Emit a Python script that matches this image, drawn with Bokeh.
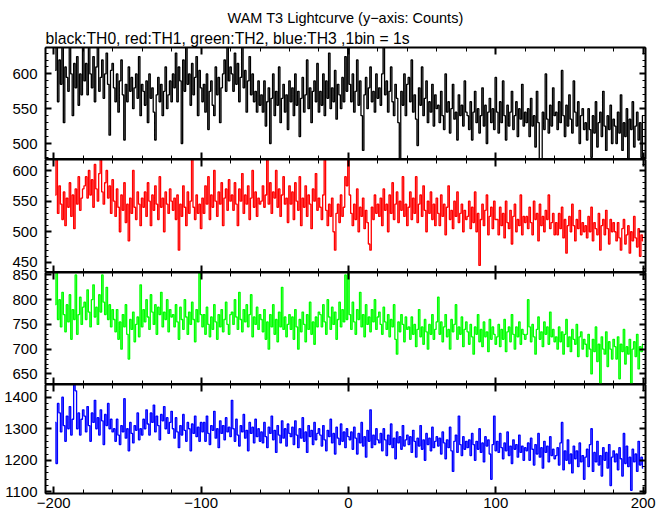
from bokeh.plotting import figure
from bokeh.models import Range1d, LinearAxis, SingleIntervalTicker, Title
from bokeh.layouts import column
from bokeh.embed import file_html
from bokeh.resources import INLINE

FONT = "Liberation Sans"

main_title = "WAM T3 Lightcurve (y\u2212axis: Counts)"
sub_title = "black:TH0, red:TH1, green:TH2, blue:TH3 ,1bin = 1s"

t_start = -199  # first 1-s bin

th0 = [
    605, 640, 560, 620, 585, 650, 530, 610, 595, 575, 645, 600, 540, 615, 580, 625, 555, 600, 570, 640,
    590, 615, 570, 645, 600, 580, 625, 560, 610, 640, 575, 595, 620, 565, 600, 630, 585, 512, 605, 615,
    580, 560, 600, 545, 590, 620, 570, 505, 585, 560, 610, 575, 595, 550, 580, 600, 565, 625, 540, 585,
    575, 555, 590, 530, 600, 565, 580, 545, 505, 570, 595, 560, 585, 540, 575, 610, 550, 570, 590, 560,
    600, 580, 630, 560, 610, 590, 500, 620, 575, 645, 585, 600, 555, 615, 570, 595, 625, 540, 605, 580,
    560, 585, 545, 600, 520, 575, 590, 555, 540, 610, 570, 595, 530, 580, 600, 620, 575, 640, 590, 610,
    600, 575, 630, 585, 615, 560, 595, 640, 580, 605, 545, 590, 625, 570, 600, 560, 575, 545, 590, 555,
    570, 545, 590, 525, 560, 580, 500, 565, 600, 540, 575, 555, 610, 530, 565, 585, 545, 570, 520, 590,
    560, 580, 540, 600, 555, 575, 510, 565, 595, 545, 570, 620, 550, 580, 530, 575, 590, 560, 615, 545,
    575, 555, 600, 540, 590, 565, 630, 550, 580, 560, 605, 535, 585, 570, 550, 595, 560, 625, 575, 650,
    585, 560, 600, 545, 575, 620, 555, 590, 540, 490, 570, 595, 550, 580, 610, 560, 575, 545, 600, 565,
    580, 555, 600, 640, 570, 590, 545, 575, 610, 560, 540, 585, 565, 530, 470, 575, 555, 600, 540, 585,
    595, 560, 620, 545, 570, 535, 497, 580, 555, 610, 540, 565, 590, 530, 560, 545, 585, 525, 570, 550,
    555, 530, 575, 540, 520, 600, 545, 560, 515, 550, 585, 535, 545, 505, 570, 540, 555, 525, 590, 545,
    540, 520, 560, 505, 545, 575, 530, 550, 515, 540, 580, 525, 555, 500, 545, 565, 530, 550, 520, 595,
    545, 515, 560, 530, 590, 540, 505, 555, 525, 545, 575, 520, 540, 560, 510, 550, 535, 585, 525, 545,
    530, 550, 510, 565, 525, 540, 495, 575, 530, 470, 475, 545, 520, 600, 535, 515, 555, 525, 580, 540,
    545, 520, 560, 530, 605, 540, 510, 555, 525, 570, 535, 515, 590, 545, 525, 560, 500, 540, 550, 520,
    530, 505, 550, 520, 480, 540, 515, 560, 495, 530, 545, 510, 575, 525, 490, 540, 520, 555, 500, 535,
    525, 500, 545, 515, 570, 490, 530, 510, 550, 478, 535, 520, 560, 495, 525, 545, 505, 530, 480, 540,
]

th1 = [
    560, 620, 530, 575, 545, 520, 565, 510, 555, 540, 580, 525, 560, 505, 570, 545, 590, 535, 555, 570,
    575, 590, 555, 600, 560, 585, 540, 610, 570, 550, 595, 620, 565, 545, 580, 600, 555, 575, 530, 585,
    550, 525, 570, 540, 500, 560, 535, 580, 515, 545, 485, 555, 530, 600, 540, 520, 565, 545, 510, 555,
    540, 565, 525, 580, 550, 510, 560, 535, 575, 545, 520, 590, 540, 555, 500, 565, 545, 530, 570, 550,
    535, 555, 520, 560, 470, 545, 525, 575, 540, 510, 565, 530, 550, 620, 540, 520, 560, 530, 545, 505,
    555, 530, 575, 545, 590, 520, 560, 540, 600, 550, 525, 565, 545, 580, 510, 555, 570, 535, 585, 550,
    560, 535, 580, 545, 510, 570, 550, 595, 530, 560, 545, 575, 520, 555, 600, 540, 565, 525, 555, 545,
    550, 575, 540, 560, 620, 545, 580, 530, 565, 555, 600, 540, 570, 525, 560, 590, 545, 555, 515, 575,
    545, 565, 520, 580, 550, 535, 590, 510, 555, 540, 575, 525, 560, 545, 505, 570, 550, 595, 535, 555,
    540, 520, 560, 620, 535, 510, 545, 525, 555, 500, 470, 530, 545, 515, 560, 525, 540, 590, 575, 620,
    560, 530, 510, 545, 520, 570, 500, 540, 525, 555, 505, 535, 515, 480, 470, 540, 520, 560, 530, 545,
    525, 555, 510, 570, 535, 545, 500, 560, 530, 580, 520, 545, 565, 515, 550, 535, 590, 525, 545, 510,
    540, 565, 520, 555, 530, 590, 515, 545, 560, 525, 575, 535, 500, 550, 530, 565, 520, 545, 510, 555,
    530, 510, 560, 525, 545, 495, 540, 575, 520, 535, 505, 550, 525, 565, 515, 530, 545, 500, 535, 520,
    525, 550, 505, 540, 515, 565, 500, 530, 445, 520, 545, 510, 535, 560, 495, 525, 540, 505, 550, 520,
    520, 495, 540, 510, 530, 490, 550, 515, 505, 535, 480, 525, 545, 500, 520, 510, 560, 495, 525, 515,
    525, 505, 540, 515, 495, 550, 520, 530, 485, 545, 510, 525, 500, 535, 520, 560, 505, 515, 530, 495,
    515, 495, 530, 505, 540, 490, 520, 465, 510, 525, 500, 545, 510, 485, 520, 505, 535, 495, 515, 500,
    510, 490, 525, 500, 540, 485, 515, 505, 495, 530, 470, 510, 520, 495, 535, 505, 480, 520, 500, 515,
    500, 485, 515, 490, 470, 505, 520, 480, 495, 510, 465, 500, 485, 525, 490, 475, 505, 460, 495, 485,
]

th2 = [
    790, 860, 760, 800, 745, 815, 770, 735, 790, 755, 810, 720, 780, 760, 850, 730, 770, 805, 750, 785,
    795, 760, 820, 775, 745, 800, 830, 765, 785, 750, 810, 775, 850, 795, 770, 825, 760, 790, 745, 780,
    760, 735, 780, 720, 755, 700, 770, 745, 790, 730, 680, 760, 740, 775, 715, 750, 765, 725, 830, 745,
    780, 755, 800, 765, 740, 810, 775, 750, 790, 730, 785, 770, 815, 745, 775, 760, 800, 735, 780, 765,
    770, 745, 790, 755, 720, 785, 760, 740, 800, 765, 730, 775, 750, 795, 760, 715, 780, 755, 855, 770,
    745, 770, 730, 785, 750, 725, 765, 740, 790, 755, 720, 770, 745, 780, 735, 760, 795, 750, 730, 770,
    775, 750, 800, 765, 740, 815, 760, 735, 780, 755, 790, 745, 770, 810, 725, 765, 750, 785, 740, 770,
    760, 735, 780, 720, 755, 700, 770, 745, 790, 730, 760, 715, 775, 745, 825, 740, 765, 725, 750, 770,
    740, 765, 720, 780, 745, 700, 760, 735, 775, 750, 715, 770, 740, 795, 730, 755, 710, 765, 745, 775,
    770, 745, 790, 755, 730, 800, 765, 740, 785, 750, 775, 720, 760, 795, 745, 780, 755, 850, 760, 860,
    770, 740, 795, 755, 730, 780, 760, 815, 745, 770, 725, 790, 750, 765, 735, 780, 755, 800, 740, 765,
    775, 750, 730, 785, 755, 740, 770, 725, 760, 745, 790, 720, 690, 755, 735, 770, 750, 715, 765, 740,
    745, 720, 765, 730, 750, 705, 740, 780, 725, 745, 710, 760, 735, 700, 750, 730, 770, 720, 740, 755,
    805, 730, 755, 715, 745, 770, 725, 740, 700, 760, 735, 750, 790, 720, 745, 730, 765, 705, 740, 755,
    735, 710, 750, 725, 690, 745, 730, 770, 715, 740, 705, 755, 725, 735, 695, 760, 720, 745, 730, 710,
    725, 750, 705, 740, 720, 760, 695, 735, 745, 715, 770, 730, 700, 745, 725, 755, 710, 740, 730, 720,
    730, 800, 745, 715, 750, 725, 690, 740, 765, 720, 735, 705, 755, 730, 745, 710, 775, 725, 740, 715,
    725, 700, 745, 715, 735, 690, 730, 760, 705, 725, 695, 740, 720, 710, 750, 685, 725, 735, 700, 720,
    710, 685, 730, 700, 650, 720, 695, 745, 675, 710, 630, 725, 700, 690, 735, 665, 715, 700, 680, 720,
    705, 680, 725, 640, 710, 695, 740, 670, 705, 690, 720, 630, 700, 715, 685, 730, 660, 705, 695, 710,
]

th3 = [
    1320, 1190, 1380, 1350, 1290, 1400, 1310, 1260, 1340, 1300, 1370, 1280, 1330, 1445, 1420, 1300, 1350, 1280, 1330, 1360,
    1340, 1290, 1370, 1310, 1260, 1350, 1320, 1390, 1300, 1335, 1280, 1360, 1325, 1250, 1345, 1310, 1380, 1300, 1330, 1290,
    1300, 1260, 1330, 1280, 1250, 1310, 1290, 1395, 1270, 1300, 1230, 1320, 1285, 1255, 1310, 1295, 1350, 1265, 1300, 1280,
    1330, 1300, 1360, 1315, 1280, 1350, 1320, 1375, 1290, 1340, 1310, 1265, 1345, 1325, 1370, 1300, 1335, 1285, 1320, 1355,
    1300, 1270, 1335, 1290, 1240, 1310, 1280, 1345, 1295, 1260, 1320, 1300, 1230, 1315, 1285, 1340, 1275, 1305, 1260, 1320,
    1290, 1320, 1260, 1340, 1285, 1250, 1310, 1295, 1355, 1270, 1300, 1240, 1325, 1285, 1310, 1265, 1335, 1290, 1305, 1275,
    1390, 1300, 1260, 1330, 1280, 1245, 1310, 1290, 1345, 1270, 1295, 1230, 1320, 1285, 1305, 1255, 1330, 1275, 1300, 1260,
    1290, 1255, 1320, 1275, 1240, 1305, 1285, 1340, 1265, 1295, 1225, 1310, 1280, 1255, 1325, 1270, 1300, 1245, 1315, 1285,
    1275, 1305, 1250, 1325, 1280, 1240, 1300, 1270, 1335, 1260, 1290, 1225, 1310, 1275, 1295, 1250, 1320, 1265, 1285, 1300,
    1280, 1245, 1310, 1265, 1230, 1295, 1275, 1330, 1255, 1285, 1220, 1305, 1270, 1250, 1315, 1260, 1290, 1240, 1300, 1275,
    1265, 1290, 1235, 1305, 1270, 1220, 1285, 1255, 1320, 1245, 1275, 1210, 1295, 1260, 1360, 1240, 1280, 1250, 1300, 1265,
    1255, 1285, 1230, 1300, 1265, 1215, 1280, 1250, 1315, 1240, 1270, 1205, 1290, 1255, 1275, 1235, 1310, 1245, 1265, 1280,
    1250, 1275, 1225, 1295, 1260, 1210, 1270, 1245, 1310, 1235, 1265, 1200, 1285, 1250, 1270, 1230, 1305, 1240, 1260, 1275,
    1245, 1270, 1220, 1290, 1255, 1205, 1265, 1240, 1305, 1230, 1165, 1260, 1280, 1225, 1340, 1250, 1215, 1275, 1235, 1260,
    1240, 1265, 1215, 1285, 1250, 1200, 1260, 1235, 1300, 1225, 1255, 1195, 1275, 1245, 1265, 1220, 1140, 1250, 1340, 1230,
    1260, 1225, 1285, 1240, 1205, 1255, 1230, 1290, 1215, 1245, 1190, 1265, 1235, 1250, 1210, 1280, 1225, 1245, 1200, 1240,
    1230, 1255, 1200, 1270, 1235, 1185, 1250, 1220, 1285, 1210, 1240, 1175, 1260, 1225, 1245, 1195, 1275, 1215, 1235, 1205,
    1215, 1240, 1185, 1255, 1320, 1170, 1230, 1200, 1265, 1190, 1220, 1160, 1245, 1205, 1230, 1180, 1255, 1195, 1215, 1140,
    1210, 1235, 1180, 1250, 1300, 1165, 1225, 1195, 1260, 1185, 1215, 1150, 1240, 1200, 1225, 1175, 1250, 1120, 1210, 1230,
    1195, 1220, 1170, 1240, 1205, 1150, 1285, 1190, 1245, 1180, 1210, 1105, 1235, 1195, 1220, 1165, 1260, 1185, 1210, 1175,
]

series = [th0, th1, th2, th3]
colors = ["#000000", "#ff0000", "#00ff00", "#0000ff"]
y_ranges = [(477, 638), (433.5, 618), (628.6, 855), (1095, 1440)]
y_major = [50, 50, 50, 100]
x_major = 100
x_lim = (-205.6, 201.6)

frame_h = [112, 113, 112, 109]
top_border = 47      # room for the two title lines
bottom_border = 21   # room for the x tick labels
overlap = 10         # transparent strip that lets edge labels cross a panel boundary


def style_axis(ax, labels, vertical):
    ax.axis_line_color = "black"
    ax.axis_line_width = 2
    ax.major_tick_line_color = "black"
    ax.minor_tick_line_color = "black"
    ax.major_tick_line_width = 2
    ax.minor_tick_line_width = 1
    ax.major_tick_in = 6 if vertical else 7
    ax.major_tick_out = 0
    ax.minor_tick_in = 3 if vertical else 4
    ax.minor_tick_out = 0
    ax.axis_label = None
    if labels:
        ax.major_label_text_font = FONT
        ax.major_label_text_font_size = "15px"
        ax.major_label_text_color = "black"
        ax.major_label_standoff = 8 if vertical else 4
    else:
        ax.major_label_text_font_size = "0px"
        ax.major_label_text_color = None
        ax.major_label_standoff = 0


x_range = Range1d(*x_lim)
figs = []
for i, (vals, col) in enumerate(zip(series, colors)):
    first = i == 0
    last = i == len(series) - 1
    top = top_border if first else overlap
    bottom = bottom_border if last else 0
    p = figure(width=665, height=frame_h[i] + top + bottom, x_range=x_range,
               y_range=Range1d(*y_ranges[i]),
               output_backend="svg", toolbar_location=None,
               x_axis_location=None, y_axis_location=None,
               min_border_left=45, min_border_right=20,
               min_border_top=top, min_border_bottom=bottom)
    if not first:
        p.margin = (-overlap, 0, 0, 0)
    p.xgrid.grid_line_color = None
    p.ygrid.grid_line_color = None
    p.outline_line_color = "black"
    p.outline_line_width = 1
    p.background_fill_color = None
    p.border_fill_color = None

    for loc in ("left", "right"):
        ax = LinearAxis(ticker=SingleIntervalTicker(interval=y_major[i], num_minor_ticks=5))
        style_axis(ax, loc == "left", True)
        p.add_layout(ax, loc)
    for loc in ("below", "above"):
        ax = LinearAxis(ticker=SingleIntervalTicker(interval=x_major, num_minor_ticks=5))
        style_axis(ax, loc == "below" and last, False)
        if loc == "below" and last:
            ax.major_label_overrides = {-200: "\u2212200", -100: "\u2212100"}
        p.add_layout(ax, loc)

    t = list(range(t_start, t_start + len(vals)))
    p.step(x=t, y=vals, mode="center", line_color=col, line_width=1.3)

    if first:
        p.add_layout(Title(text=sub_title, align="left", text_font=FONT,
                           text_font_size="15.7px", text_font_style="normal",
                           text_color="black", standoff=2), "above")
        p.add_layout(Title(text=main_title, align="center", text_font=FONT,
                           text_font_size="14.5px", text_font_style="normal",
                           text_color="black", standoff=1), "above")
    figs.append(p)

layout = column(*figs, background="white")
open("out.html", "w").write(file_html(layout, INLINE))
